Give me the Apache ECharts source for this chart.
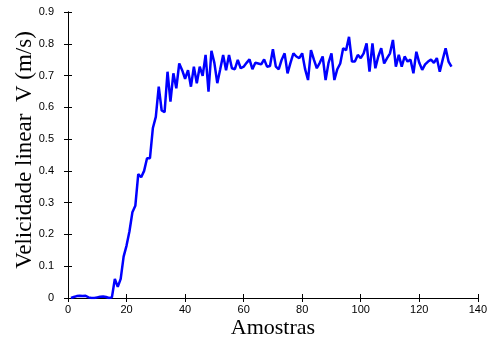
<!DOCTYPE html>
<html>
<head>
<meta charset="utf-8">
<script src="https://cdn.jsdelivr.net/npm/echarts@6/dist/echarts.min.js"></script>
<style>
  html, body { margin: 0; padding: 0; background: #fff; }
  #chart { width: 490px; height: 345px; }
</style>
</head>
<body>
<div id="chart"></div>
<script>
// Linear velocity per sample
const samples = Array.from({ length: 131 }, (_, i) => i + 1);
const velocity = [
  0, 0.003, 0.006, 0.007, 0.006, 0.007, 0.002, 0.0, 0.0, 0.002,
  0.004, 0.005, 0.003, 0.0, 0.002, 0.06, 0.035, 0.06, 0.13, 0.165,
  0.21, 0.27, 0.29, 0.39, 0.38, 0.4, 0.44, 0.44, 0.535, 0.57,
  0.665, 0.59, 0.585, 0.712, 0.618, 0.707, 0.66, 0.738, 0.717, 0.69,
  0.717, 0.665, 0.728, 0.676, 0.728, 0.699, 0.765, 0.649, 0.778, 0.74,
  0.676, 0.72, 0.765, 0.717, 0.765, 0.723, 0.72, 0.749, 0.723, 0.728,
  0.74, 0.751, 0.72, 0.74, 0.738, 0.735, 0.751, 0.728, 0.73, 0.783,
  0.728, 0.72, 0.75, 0.77, 0.707, 0.74, 0.77, 0.76, 0.755, 0.77,
  0.72, 0.686, 0.78, 0.75, 0.723, 0.74, 0.76, 0.686, 0.74, 0.77,
  0.686, 0.72, 0.738, 0.786, 0.78, 0.822, 0.744, 0.744, 0.765, 0.755,
  0.77, 0.801, 0.712, 0.801, 0.723, 0.76, 0.786, 0.738, 0.755, 0.77,
  0.812, 0.728, 0.765, 0.728, 0.76, 0.744, 0.75, 0.707, 0.775, 0.74,
  0.718, 0.735, 0.744, 0.75, 0.74, 0.755, 0.712, 0.75, 0.786, 0.744,
  0.728
];
const xRange = [0, 140, 20];
const yRange = [0, 0.9, 0.1];
const xTitle = 'Amostras';
const yTitle = 'Velicidade linear  V (m/s)';

const chart = echarts.init(document.getElementById('chart'), null, { renderer: 'canvas' });

const tickFont = { color: '#000', fontFamily: 'Liberation Sans, Arial, sans-serif', fontSize: 11 };
const axisLineStyle = { show: true, lineStyle: { color: '#000', width: 1 } };
const innerTick = { show: true, inside: true, length: 4, lineStyle: { color: '#000', width: 1 } };
const serif = 'Liberation Serif, Times New Roman, serif';

chart.setOption({
  animation: false,
  backgroundColor: '#fff',
  grid: { left: 68, right: 11, top: 12, bottom: 47, containLabel: false },
  xAxis: [
    {
      type: 'value', min: xRange[0], max: xRange[1], interval: xRange[2],
      position: 'bottom',
      name: xTitle, nameLocation: 'middle', nameGap: 19, nameMoveOverlap: false,
      nameTextStyle: { color: '#000', fontFamily: serif, fontSize: 22 },
      axisLine: axisLineStyle, axisTick: innerTick,
      axisLabel: Object.assign({ margin: 6 }, tickFont),
      splitLine: { show: false }
    },
    {
      type: 'value', min: xRange[0], max: xRange[1], interval: xRange[2],
      position: 'top',
      axisLine: axisLineStyle, axisTick: innerTick,
      axisLabel: { show: false }, splitLine: { show: false }
    }
  ],
  yAxis: [
    {
      type: 'value', min: yRange[0], max: yRange[1], interval: yRange[2],
      position: 'left',
      name: yTitle, nameLocation: 'middle', nameGap: 32, nameRotate: 90, nameMoveOverlap: false,
      nameTextStyle: { color: '#000', fontFamily: serif, fontSize: 23, padding: [0, 0, 0, 10] },
      axisLine: axisLineStyle, axisTick: innerTick,
      axisLabel: Object.assign({ margin: 14, formatter: v => String(+v.toFixed(1)) }, tickFont),
      splitLine: { show: false }
    },
    {
      type: 'value', min: yRange[0], max: yRange[1], interval: yRange[2],
      position: 'right',
      axisLine: axisLineStyle, axisTick: innerTick,
      axisLabel: { show: false }, splitLine: { show: false }
    }
  ],
  series: [
    {
      type: 'line',
      data: samples.map((s, i) => [s, velocity[i]]),
      showSymbol: false,
      lineStyle: { color: '#0000ff', width: 2.5 },
      itemStyle: { color: '#0000ff' }
    }
  ]
});
</script>
</body>
</html>
